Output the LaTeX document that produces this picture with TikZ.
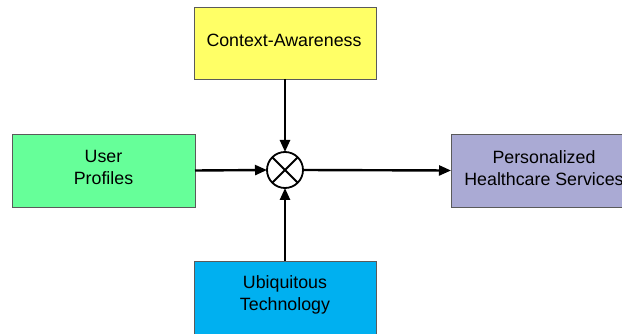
\documentclass[tikz,border=0pt]{standalone}
\usepackage{fontspec}
\setmainfont{Liberation Sans}
\usetikzlibrary{arrows.meta}
\definecolor{ctxyellow}{RGB}{255,255,102}
\definecolor{userGreen}{RGB}{102,255,153}
\definecolor{servPurple}{RGB}{170,170,212}
\definecolor{techBlue}{RGB}{0,176,240}
\definecolor{frameGray}{RGB}{90,90,90}
\begin{document}
\begin{tikzpicture}[x=1pt,y=-1pt,
  block/.style={draw=frameGray,line width=0.9pt,inner sep=0pt,outer sep=0pt},
  caption/.style={align=center,inner sep=0pt,font=\fontsize{17.8}{21.5}\selectfont},
  flow/.style={line width=2.4pt,-{Triangle[length=12pt,width=10pt]}},
  mixer/.style={circle,draw=black,line width=1.8pt,minimum size=36pt,inner sep=0pt,outer sep=0pt,fill=white}]
\useasboundingbox (0,0) rectangle (622,334);
\clip (0,0) rectangle (622,334);
% boxes
\node[block,fill=ctxyellow,minimum width=182pt,minimum height=72pt] (ctx) at (285,43) {};
\node[block,fill=userGreen,minimum width=183pt,minimum height=73pt] (user) at (103.5,170.5) {};
\node[block,fill=servPurple,minimum width=190pt,minimum height=73pt] (serv) at (546,170.5) {};
\node[block,fill=techBlue,minimum width=182pt,minimum height=74pt] (tech) at (285,298) {};
% box texts
\node[caption] (ctxtext) at (284,40) {Context-Awareness};
\node[caption] (usertext) at (103.5,167.5) {User\\Profiles};
\node[caption] (servtext) at (544,168) {Personalized\\Healthcare Services};
\node[caption] (techtext) at (285,295) {Ubiquitous\\Technology};
% combining junction
\node[mixer] (mix) at (285,170) {};
\draw[line width=1.8pt] (mix.north west) -- (mix.south east)
                        (mix.north east) -- (mix.south west);
% connectors
\draw[flow] (ctx.south) -- (mix.north);
\draw[flow] (user.east) -- (mix.west);
\draw[flow] (tech.north) -- (mix.south);
\draw[flow] (mix.east) -- (serv.west);
\end{tikzpicture}
\end{document}
